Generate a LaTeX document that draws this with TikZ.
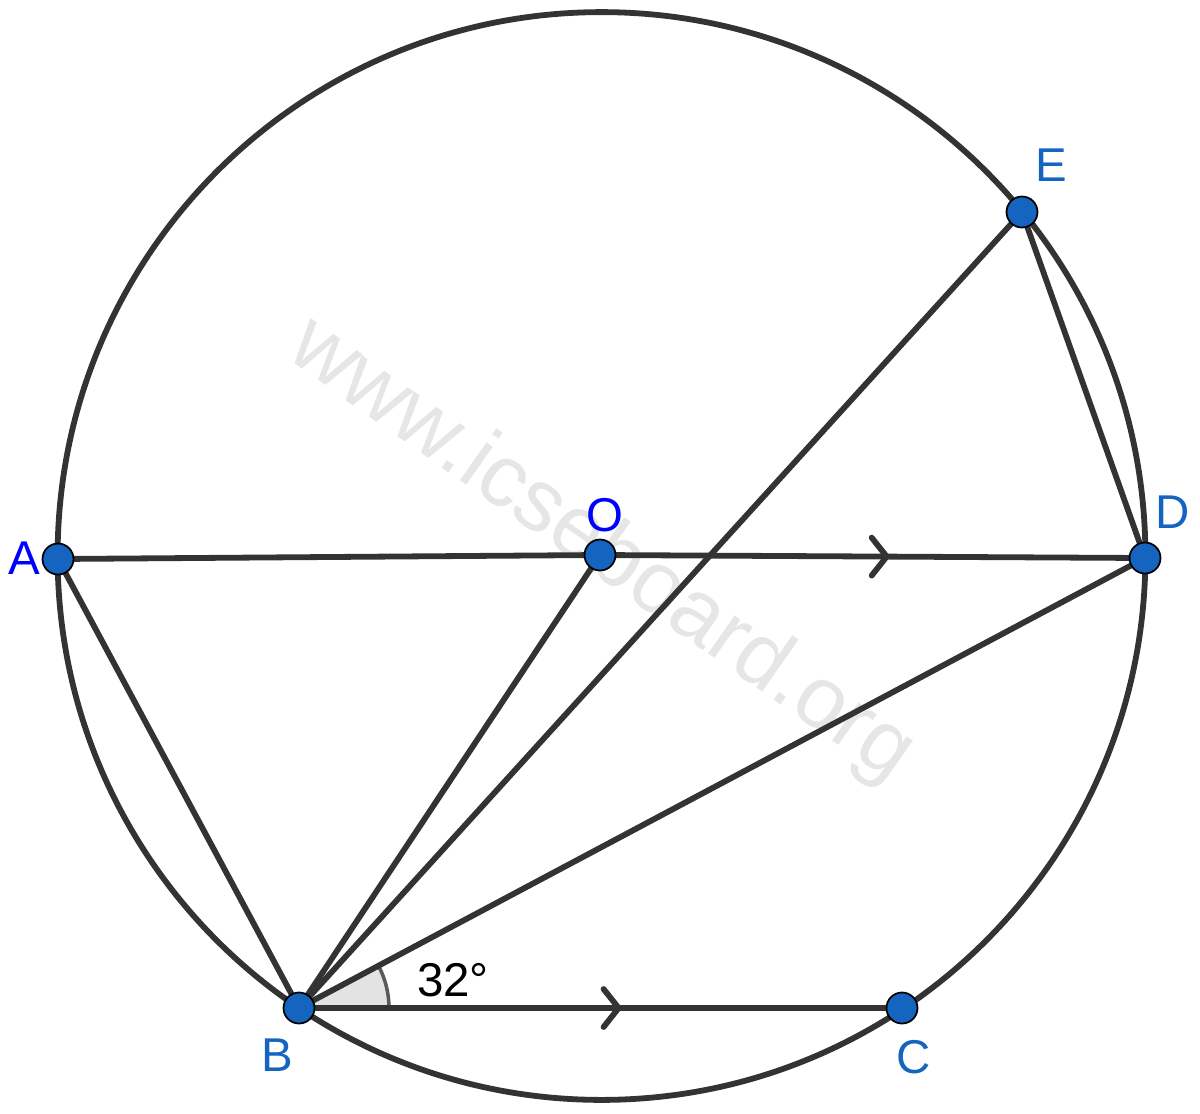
\documentclass[tikz,border=0pt]{standalone}
\usepackage{fontspec}
\setmainfont{Liberation Sans}
\usetikzlibrary{calc}
\definecolor{ptblue}{HTML}{1565C0}
\definecolor{lineg}{HTML}{333333}
\definecolor{wm}{HTML}{E6E6E6}
\tikzset{
  seg/.style={draw=lineg, line width=3.3pt, line cap=round},
  pt/.style={circle, fill=ptblue, draw=black, line width=1pt, minimum size=0.62cm, inner sep=0pt},
  lbl/.style={text=ptblue, font=\fontsize{27}{30}\selectfont, inner sep=0pt},
  lblb/.style={text=blue, font=\fontsize{27}{30}\selectfont, inner sep=0pt},
  chev/.style={draw=lineg, line width=3.3pt, line cap=round, line join=round}
}
\begin{document}
\begin{tikzpicture}[x=0.02cm,y=-0.02cm]
\useasboundingbox (0,0) rectangle (1200,1113);
% watermark
\node[text=wm, rotate=-35, font=\fontsize{50}{52}\selectfont, inner sep=0pt] (wmk) at (601,551) {www.icseboard.org};
% points
\coordinate (cO) at (601.5,556);
\coordinate (A) at (58,559);
\coordinate (O) at (600,555);
\coordinate (D) at (1145,558);
\coordinate (E) at (1022,212);
\coordinate (B) at (299,1008);
\coordinate (C) at (902,1008);
% angle mark
\fill[gray!22] (B) -- ++(0:1.8cm) arc[start angle=0, end angle=28, radius=1.8cm] -- cycle;
\draw[gray!70!black, line width=2pt] (B) ++(0:1.8cm) arc[start angle=0, end angle=28, radius=1.8cm];
% circle
\draw[seg] (cO) circle[radius=10.88cm];
% segments
\draw[seg] (A) -- (O);
\draw[seg] (O) -- (D);
\draw[seg] (A) -- (B);
\draw[seg] (B) -- (O);
\draw[seg] (B) -- (E);
\draw[seg] (B) -- (D);
\draw[seg] (B) -- (C);
\draw[seg] (E) -- (D);
% parallel marks
\draw[chev] ($(O)!0.526!(D)$) ++(-15,-19) -- ++(15,19) -- ++(-15,19);
\draw[chev] ($(B)!0.53!(C)$) ++(-15,-19) -- ++(15,19) -- ++(-15,19);
% point nodes
\node[pt] (pA) at (A) {};
\node[pt] (pO) at (O) {};
\node[pt] (pD) at (D) {};
\node[pt] (pE) at (E) {};
\node[pt] (pB) at (B) {};
\node[pt] (pC) at (C) {};
% labels
\node[lblb] (tA) at (24,558) {A};
\node[lblb] (tO) at (605,515) {O};
\node[lbl] (tD) at (1173,512) {D};
\node[lbl] (tE) at (1051,165) {E};
\node[lbl] (tB) at (277,1055) {B};
\node[lbl] (tC) at (914,1057) {C};
\node[font=\fontsize{27}{30}\selectfont, inner sep=0pt] (ang) at (453,980) {32°};
\end{tikzpicture}
\end{document}
